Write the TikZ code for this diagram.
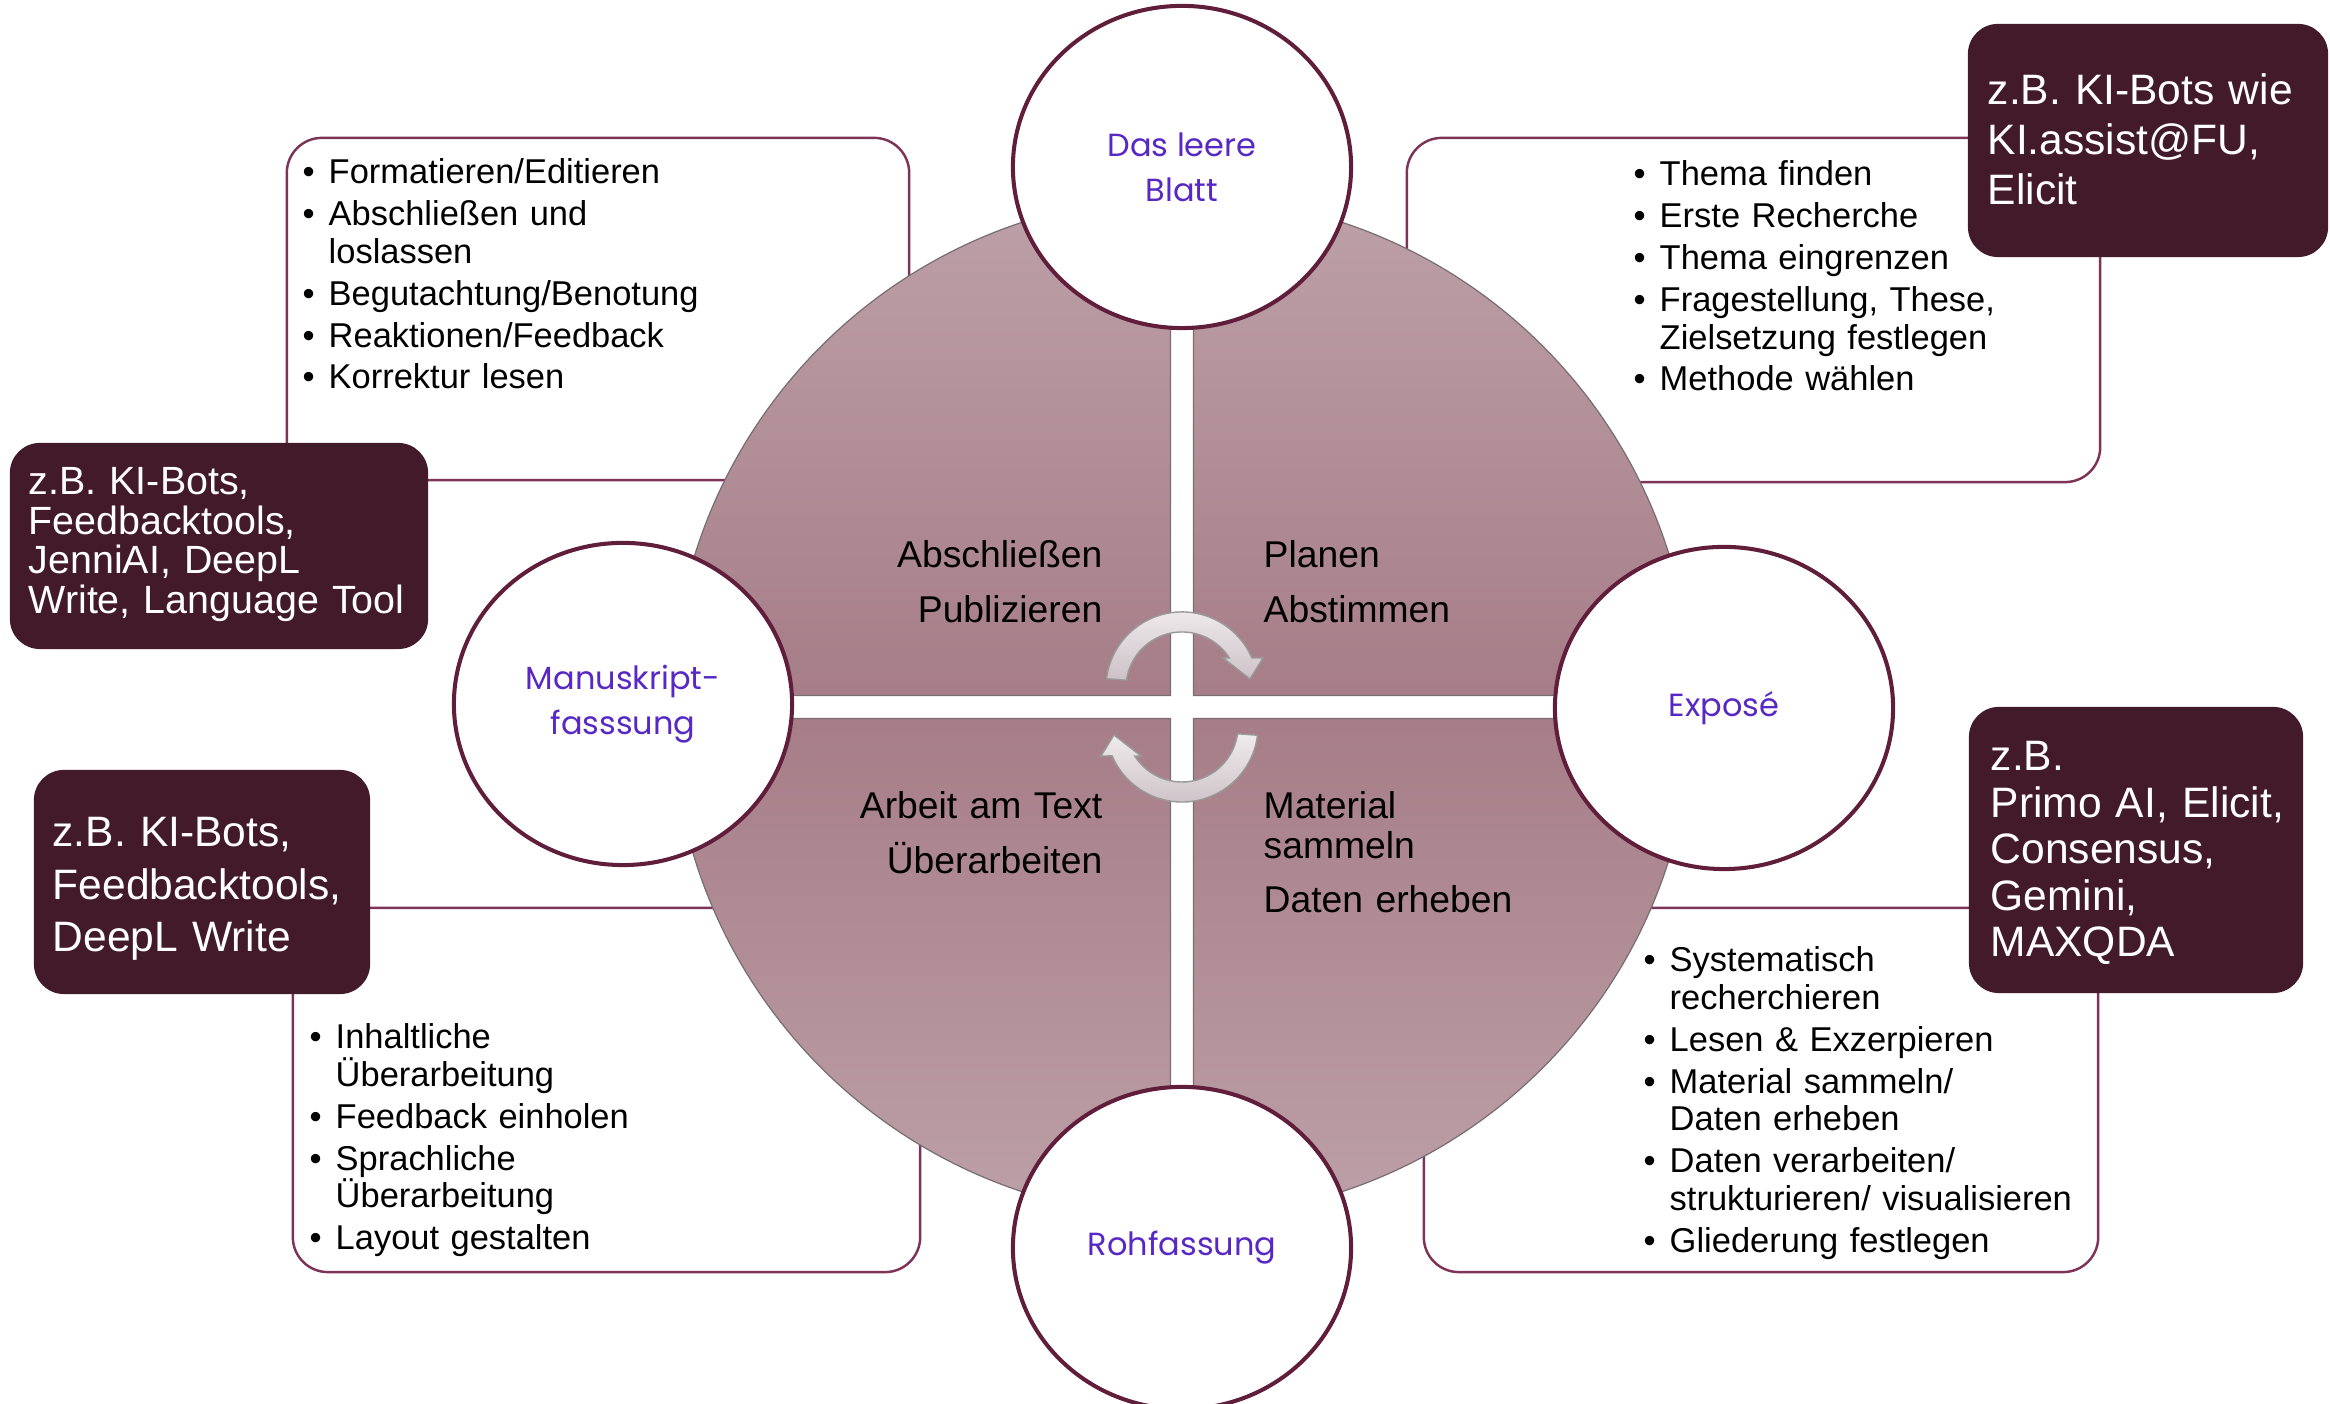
\documentclass[tikz,border=0pt]{standalone}
\usepackage{fontspec}
\setmainfont{Liberation Sans}
\newfontfamily\phasefont{Poppins}
\usetikzlibrary{calc,shapes.geometric}

\definecolor{ringline}{RGB}{96,30,58}
\definecolor{frameline}{RGB}{125,52,88}
\definecolor{toolfill}{RGB}{66,26,41}
\definecolor{phasetext}{RGB}{88,40,196}
\definecolor{petallight}{RGB}{189,160,168}
\definecolor{petaldark}{RGB}{166,125,136}
\definecolor{petaledge}{RGB}{120,110,115}
\definecolor{arrowlight}{RGB}{240,235,237}
\definecolor{arrowdark}{RGB}{204,193,198}

% bullet item with hanging indent
\newcommand{\li}[1]{\hangindent=7.4pt\hangafter=1\noindent\makebox[7.4pt][l]{•}#1\par}

\tikzset{
  listframe/.style={draw=frameline, line width=0.7pt, rounded corners=0.35cm, inner sep=0pt},
  toolbox/.style={fill=toolfill, rounded corners=0.3cm, inner sep=0pt},
  tooltext/.style={text=white, inner sep=0pt, text width=4.2cm, align=left},
  phase/.style={ellipse, draw=ringline, fill=white, line width=1.15pt,
    minimum width=3.38cm, minimum height=3.22cm, inner sep=0pt, align=center,
    text=phasetext, font=\phasefont\fontsize{9.1pt}{12.8pt}\selectfont},
  bullets/.style={inner sep=0pt, text width=6.2cm, align=left,
    font=\fontsize{9.8pt}{10.7pt}\selectfont},
  stage/.style={inner sep=0pt, text width=3cm,
    font=\fontsize{10.6pt}{11.1pt}\selectfont},
  petal/.style={draw=petaledge, line width=0.35pt},
  cyclearrow/.style={top color=arrowlight, bottom color=arrowdark, draw=black!40, line width=0.4pt},
}

\begin{document}
\begin{tikzpicture}[x=0.01cm, y=0.01cm]
\useasboundingbox (0,0) rectangle (2330,1404);

% frames around the task lists
\node[listframe, minimum width=6.22cm, minimum height=3.42cm] (tlFrame) at (598,1095) {};
\node[listframe, minimum width=6.93cm, minimum height=3.44cm] (trFrame) at (1753.5,1094) {};
\node[listframe, minimum width=6.27cm, minimum height=3.64cm] (blFrame) at (606.5,314) {};
\node[listframe, minimum width=6.74cm, minimum height=3.64cm] (brFrame) at (1761,314) {};

% the four quarters of the writing cycle
\coordinate (hub) at (1182,697);
\shade[petal, top color=petallight, bottom color=petaldark]
  ($(hub)+(11.5,11.5)$) -- ($(hub)+(88.71:5.1cm)$) arc[start angle=88.71, end angle=1.29, radius=5.1cm] -- cycle;
\shade[petal, top color=petallight, bottom color=petaldark]
  ($(hub)+(-11.5,11.5)$) -- ($(hub)+(91.29:5.1cm)$) arc[start angle=91.29, end angle=178.71, radius=5.1cm] -- cycle;
\shade[petal, top color=petaldark, bottom color=petallight]
  ($(hub)+(-11.5,-11.5)$) -- ($(hub)+(181.29:5.1cm)$) arc[start angle=181.29, end angle=268.71, radius=5.1cm] -- cycle;
\shade[petal, top color=petaldark, bottom color=petallight]
  ($(hub)+(11.5,-11.5)$) -- ($(hub)+(271.29:5.1cm)$) arc[start angle=271.29, end angle=358.71, radius=5.1cm] -- cycle;

% circular arrows in the middle
\coordinate (upperTurn) at (1182,716);
\coordinate (lowerTurn) at (1182,678);
\shade[cyclearrow]
  ($(upperTurn)+(173:0.76cm)$) arc[start angle=173, end angle=23.2, radius=0.76cm]
  -- ($(upperTurn)+(81,30)$) -- ($(upperTurn)+(68,9)$) -- ($(upperTurn)+(41,30)$)
  -- ($(upperTurn)+(32.5:0.56cm)$) arc[start angle=32.5, end angle=172, radius=0.56cm] -- cycle;
\shade[cyclearrow]
  ($(lowerTurn)+(353:0.76cm)$) arc[start angle=353, end angle=203.2, radius=0.76cm]
  -- ($(lowerTurn)+(-81,-30)$) -- ($(lowerTurn)+(-68,-9)$) -- ($(lowerTurn)+(-41,-30)$)
  -- ($(lowerTurn)+(212.5:0.56cm)$) arc[start angle=212.5, end angle=352, radius=0.56cm] -- cycle;

% stage labels inside the quarters
\node[stage, anchor=base east, align=right] (finish) at (1103,836) {Abschließen\\[4.3pt]Publizieren};
\node[stage, anchor=base west, align=left] (plan) at (1263,836) {Planen\\[4.3pt]Abstimmen};
\node[stage, anchor=base east, align=right] (revise) at (1103,585) {Arbeit am Text\\[4.3pt]Überarbeiten};
\node[stage, anchor=base west, align=left] (collect) at (1263,585) {Material\\sammeln\\[4.3pt]Daten erheben};

% phase circles
\node[phase] (blatt) at (1182,1237) {Das leere\\Blatt};
\node[phase] (expose) at (1724,696) {Exposé};
\node[phase] (manus) at (623,700) {Manuskript-\\fasssung};
\node[phase] (roh) at (1182,156) {Rohfassung};

% tool boxes
\node[toolbox, minimum width=4.18cm, minimum height=2.06cm] (tlTools) at (219,858) {};
\node[toolbox, minimum width=3.60cm, minimum height=2.33cm] (trTools) at (2148,1263.5) {};
\node[toolbox, minimum width=3.36cm, minimum height=2.24cm] (blTools) at (202,522) {};
\node[toolbox, minimum width=3.34cm, minimum height=2.86cm] (brTools) at (2136,554) {};

\node[tooltext, anchor=base west, font=\fontsize{11.2pt}{11.2pt}\selectfont] (tlToolsText) at (28,909)
  {z.B. KI-Bots,\\Feedbacktools,\\JenniAI, DeepL\\Write, Language Tool};
\node[tooltext, anchor=base west, font=\fontsize{12.1pt}{14.2pt}\selectfont] (trToolsText) at (1987,1299)
  {z.B. KI-Bots wie\\KI.assist@FU,\\Elicit};
\node[tooltext, anchor=base west, font=\fontsize{12.1pt}{14.8pt}\selectfont] (blToolsText) at (52,557)
  {z.B. KI-Bots,\\Feedbacktools,\\DeepL Write};
\node[tooltext, anchor=base west, font=\fontsize{12.1pt}{13.2pt}\selectfont] (brToolsText) at (1990,633)
  {z.B.\\Primo AI, Elicit,\\Consensus,\\Gemini,\\MAXQDA};

% task lists
\node[bullets, anchor=base west] (tlList) at (302,1220) {\setlength{\parskip}{1.2pt}%
  \li{Formatieren/Editieren}
  \li{Abschließen und\newline loslassen}
  \li{Begutachtung/Benotung}
  \li{Reaktionen/Feedback}
  \li{Korrektur lesen}};
\node[bullets, anchor=base west] (trList) at (1633,1218) {\setlength{\parskip}{1.2pt}%
  \li{Thema finden}
  \li{Erste Recherche}
  \li{Thema eingrenzen}
  \li{Fragestellung, These,\newline Zielsetzung festlegen}
  \li{Methode wählen}};
\node[bullets, anchor=base west] (brList) at (1643,432) {\setlength{\parskip}{1.2pt}%
  \li{Systematisch\newline recherchieren}
  \li{Lesen \& Exzerpieren}
  \li{Material sammeln/\newline Daten erheben}
  \li{Daten verarbeiten/\newline strukturieren/ visualisieren}
  \li{Gliederung festlegen}};
\node[bullets, anchor=base west] (blList) at (309,355) {\setlength{\parskip}{1.2pt}%
  \li{Inhaltliche\newline Überarbeitung}
  \li{Feedback einholen}
  \li{Sprachliche\newline Überarbeitung}
  \li{Layout gestalten}};
\end{tikzpicture}
\end{document}
